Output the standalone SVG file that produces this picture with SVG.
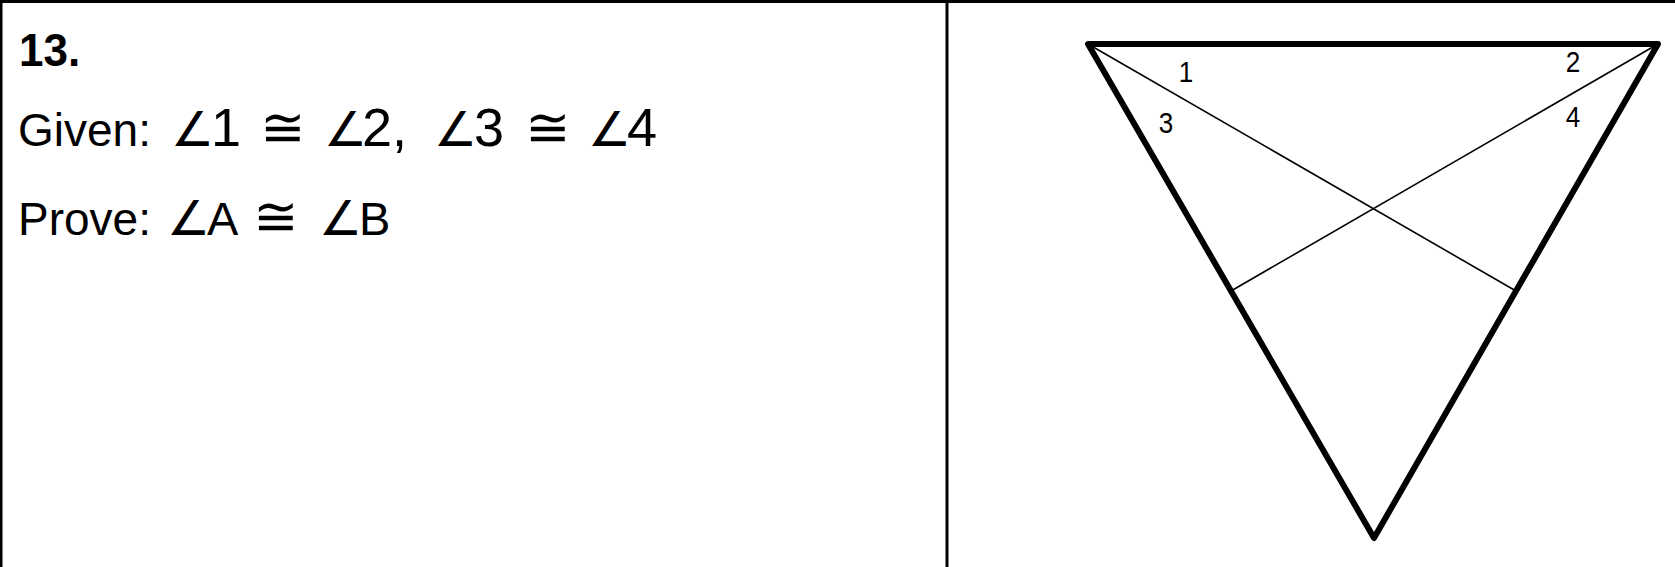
<svg xmlns="http://www.w3.org/2000/svg" width="1675" height="567" viewBox="0 0 1675 567">
<style>
.t{font-family:"Liberation Sans",Arial,sans-serif;fill:#000}
.ang{font-family:"DejaVu Sans","Liberation Sans",sans-serif;font-size:48px;letter-spacing:-5px}
.cong{font-family:"DejaVu Sans","Liberation Sans",sans-serif;font-size:54px}
.dig{font-size:54px}
.let{font-size:47px}
.lbl{font-family:"Liberation Sans",Arial,sans-serif;font-size:29px;fill:#000;text-anchor:middle}
.border{stroke:#000;stroke-width:3;fill:none}
.thick{stroke:#000;stroke-width:6;fill:none;stroke-linejoin:round;stroke-linecap:round}
.thin{stroke:#000;stroke-width:1.6;fill:none}
</style>
<rect width="1675" height="567" fill="#fff"/>
<g id="table">
<line class="border" x1="0" y1="1.5" x2="1675" y2="1.5"/>
<line class="border" x1="1" y1="0" x2="1" y2="567"/>
<line class="border" x1="947" y1="0" x2="947" y2="567"/>
</g>
<g id="problem-text">
<text class="t" transform="translate(19,66) scale(1,1.05)" font-size="44" font-weight="bold">13.</text>
<text class="t" y="146" font-size="46"><tspan x="18">Given:</tspan><tspan class="ang" x="171">∠</tspan><tspan class="dig" x="211">1</tspan><tspan class="cong" x="260">≅</tspan><tspan class="ang" x="324">∠</tspan><tspan class="dig" x="362">2,</tspan><tspan class="ang" x="434">∠</tspan><tspan class="dig" x="474">3</tspan><tspan class="cong" x="525">≅</tspan><tspan class="ang" x="588">∠</tspan><tspan class="dig" x="627">4</tspan></text>
<text class="t" y="235" font-size="46"><tspan x="18">Prove:</tspan><tspan class="ang" x="167">∠</tspan><tspan class="let" x="207">A</tspan><tspan class="cong" x="253">≅</tspan><tspan class="ang" x="319">∠</tspan><tspan class="let" x="359">B</tspan></text>
</g>
<g id="triangle">
<polygon class="thick" points="1088,44 1658,44 1374,538"/>
</g>
<g id="connectors">
<line class="thin" x1="1088" y1="44" x2="1516" y2="291"/>
<line class="thin" x1="1658" y1="44" x2="1231" y2="291"/>
</g>
<g id="labels">
<text class="lbl" transform="translate(1186,82) scale(0.9,1)">1</text>
<text class="lbl" transform="translate(1573,72) scale(0.9,1)">2</text>
<text class="lbl" transform="translate(1166,133) scale(0.9,1)">3</text>
<text class="lbl" transform="translate(1573,127) scale(0.9,1)">4</text>
</g>
</svg>
